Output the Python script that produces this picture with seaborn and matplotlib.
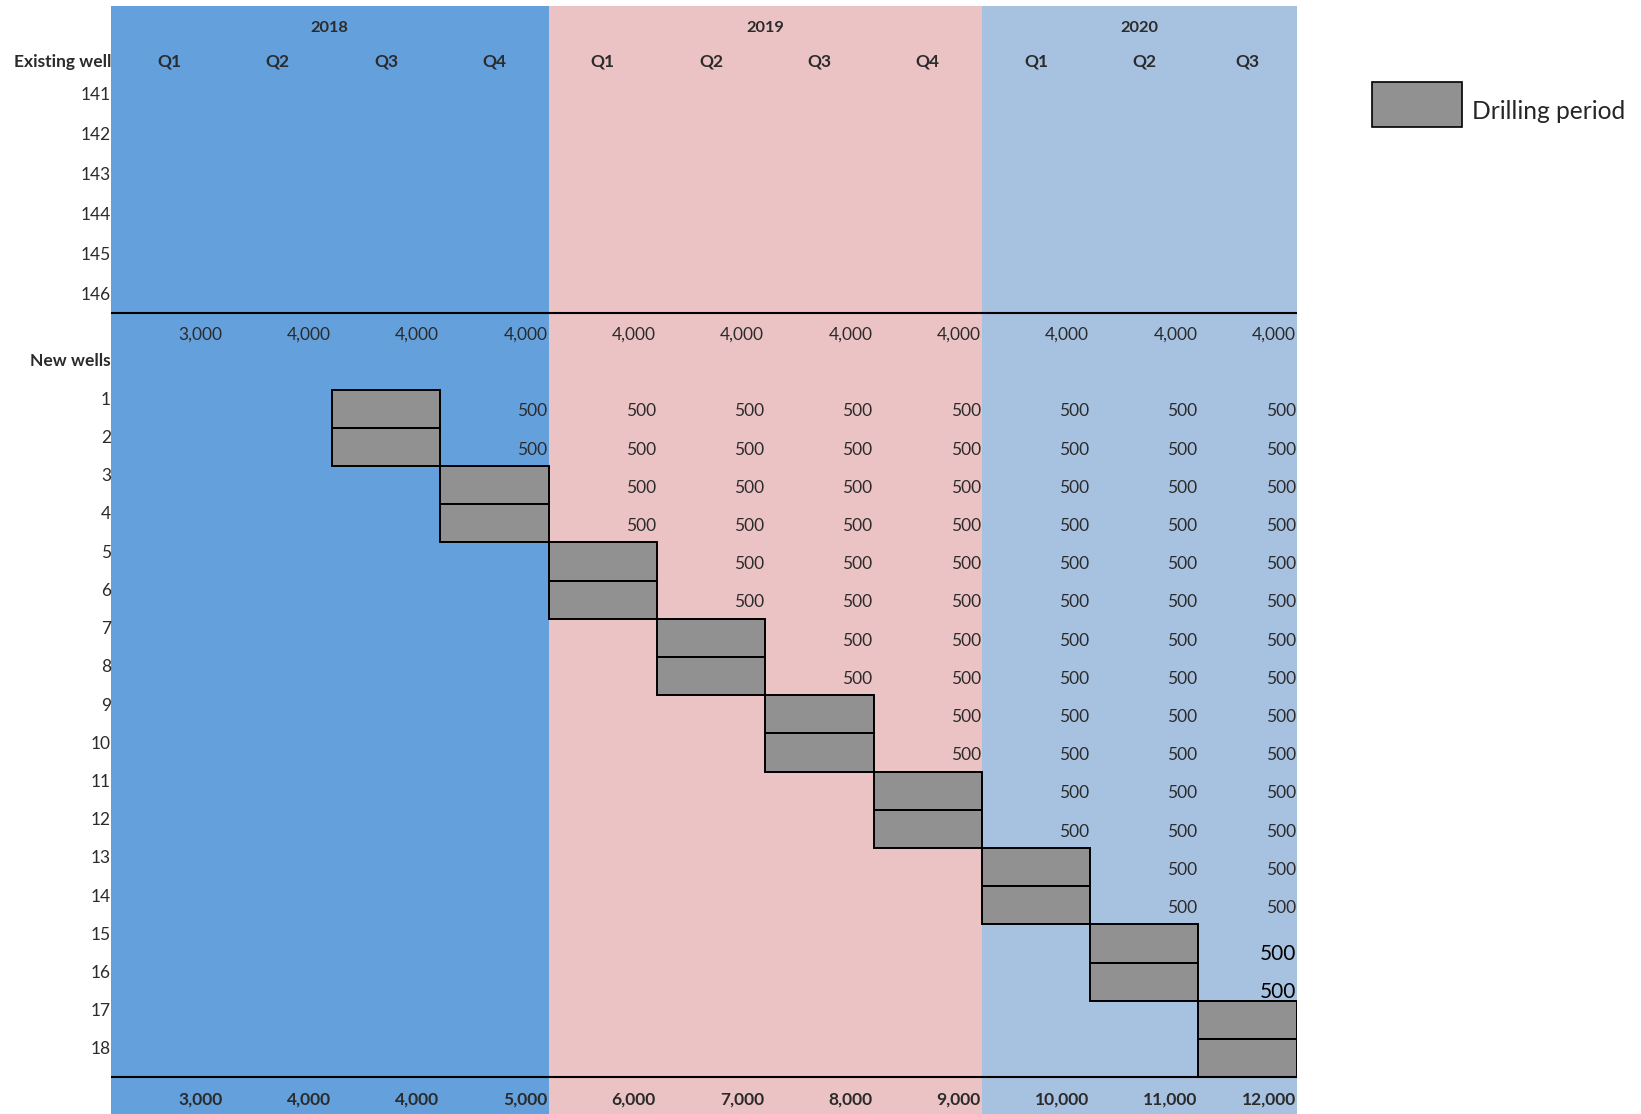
import numpy as np
import pandas as pd
import matplotlib
matplotlib.use("Agg")
import matplotlib.pyplot as plt
from matplotlib.patches import Patch
import matplotlib.transforms as mtransforms
import seaborn as sns

# ---- data -------------------------------------------------------------
years = ["2018", "2018", "2018", "2018",
         "2019", "2019", "2019", "2019",
         "2020", "2020", "2020"]
quarters = ["Q1", "Q2", "Q3", "Q4", "Q1", "Q2", "Q3", "Q4", "Q1", "Q2", "Q3"]
year_colors = {"2018": "#64A0DC", "2019": "#ECC3C4", "2020": "#A7C1E0"}

existing_wells = ["141", "142", "143", "144", "145", "146"]
existing_output = [3000, 4000, 4000, 4000, 4000, 4000, 4000, 4000, 4000, 4000, 4000]

new_wells = list(range(1, 19))
drill_quarter = [2, 2, 3, 3, 4, 4, 5, 5, 6, 6, 7, 7, 8, 8, 9, 9, 10, 10]
drill_quarters_long = [1] * 18
new_well_output = 500

total_output = [3000, 4000, 4000, 5000, 6000, 7000, 8000, 9000, 10000, 11000, 12000]

# ---- style ------------------------------------------------------------
sns.set_theme(style="white")
plt.rcParams["font.family"] = ["Lato", "DejaVu Sans"]

TXT = "#2b2b2b"
FS = 12.5
DY = 0.05  # small downward nudge so glyphs sit mid-row

fig = plt.figure(figsize=(16.41, 11.14), dpi=100)
ax = fig.add_axes([111 / 1641, 0.0, (1297 - 111) / 1641, 1 - 6.3 / 1114])

n_q = len(quarters)
x_min, x_max = -0.04, 10.91
y_top, y_bot = -9.53, 19.46

# year bands behind everything
for yr in dict.fromkeys(years):
    cols = [i for i, y in enumerate(years) if y == yr]
    lo = x_min if cols[0] == 0 else cols[0]
    hi = x_max if cols[-1] == n_q - 1 else cols[-1] + 1
    ax.axvspan(lo, hi, color=year_colors[yr], lw=0, zorder=0)
    ax.text((lo + hi) / 2, -9.0 + DY, yr, ha="center", va="center",
            fontsize=FS - 0.7, fontweight="bold", color=TXT)

# drilling periods as horizontal bars (cut at the last visible quarter)
gantt = pd.DataFrame({"well": new_wells,
                      "length": drill_quarters_long,
                      "start": drill_quarter}).sort_values("well")
gantt["shown"] = np.minimum(gantt["start"] + gantt["length"], x_max) - gantt["start"]
sns.barplot(data=gantt, x="shown", y="well", orient="y", native_scale=True,
            width=1.0, errorbar=None, color="#919191", saturation=1,
            left=gantt["start"].to_numpy(),
            edgecolor="black", linewidth=1.4, ax=ax, zorder=3)

# quarter headers
for i, q in enumerate(quarters):
    hi = min(i + 1, x_max)
    ax.text((max(i, x_min) + hi) / 2, -8.13 + DY, q, ha="center", va="center",
            fontsize=FS, fontweight="bold", color=TXT)

# existing well output per quarter
for i, v in enumerate(existing_output):
    ax.text(min(i + 1, x_max) - 0.01, -0.98 + DY, f"{v:,}", ha="right",
            va="center", fontsize=FS, color=TXT)

# new well output after drilling
for w, d, n in zip(new_wells, drill_quarter, drill_quarters_long):
    for i in range(d + n, n_q):
        big = w >= 15
        ax.text(min(i + 1, x_max) - 0.01, w + (0.23 if big else 0.02) + DY,
                f"{new_well_output:,}", ha="right", va="center",
                fontsize=FS + 2.5 if big else FS, color="black" if big else TXT,
                zorder=4)

# total output per quarter
for i, v in enumerate(total_output):
    ax.text(min(i + 1, x_max) - 0.01, 19.03 + DY, f"{v:,}", ha="right",
            va="center", fontsize=FS, fontweight="bold", color=TXT)

# separators
for yy in (-1.5, 18.5):
    ax.axhline(yy, color="black", lw=1.5, zorder=5)

# row labels on the left
lab = mtransforms.blended_transform_factory(ax.transAxes, ax.transData)
LX = 0.0
ax.text(LX, -8.13 + DY, "Existing well", transform=lab, ha="right", va="center",
        fontsize=FS, fontweight="bold", color=TXT)
for k, name in enumerate(existing_wells):
    ax.text(LX, -7.25 + 1.046 * k + DY, name, transform=lab, ha="right",
            va="center", fontsize=FS, color=TXT)
ax.text(LX, -0.29 + DY, "New wells", transform=lab, ha="right", va="center",
        fontsize=FS, fontweight="bold", color=TXT)
for w in new_wells:
    ax.text(LX, w - 0.28 + DY, str(w), transform=lab, ha="right", va="center",
            fontsize=FS, color=TXT)

ax.set_xlim(x_min, x_max)
ax.set_ylim(y_bot, y_top)
ax.set_xticks([])
ax.set_yticks([])
ax.set_xlabel("")
ax.set_ylabel("")
for s in ax.spines.values():
    s.set_visible(False)

# legend
leg = fig.legend(handles=[Patch(facecolor="#919191", edgecolor="black", lw=1.2,
                                label="Drilling period")],
                 loc="upper left", bbox_to_anchor=(1372 / 1641, 1 - 82 / 1114),
                 frameon=False, fontsize=17.7, handlelength=3.66,
                 handleheight=2.44, handletextpad=0.4, borderpad=0,
                 borderaxespad=0)
lt = leg.get_texts()[0]
lt.set_transform(lt.get_transform()
                 + mtransforms.ScaledTranslation(0, -0.07, fig.dpi_scale_trans))

fig.savefig("out.png", dpi=100)
